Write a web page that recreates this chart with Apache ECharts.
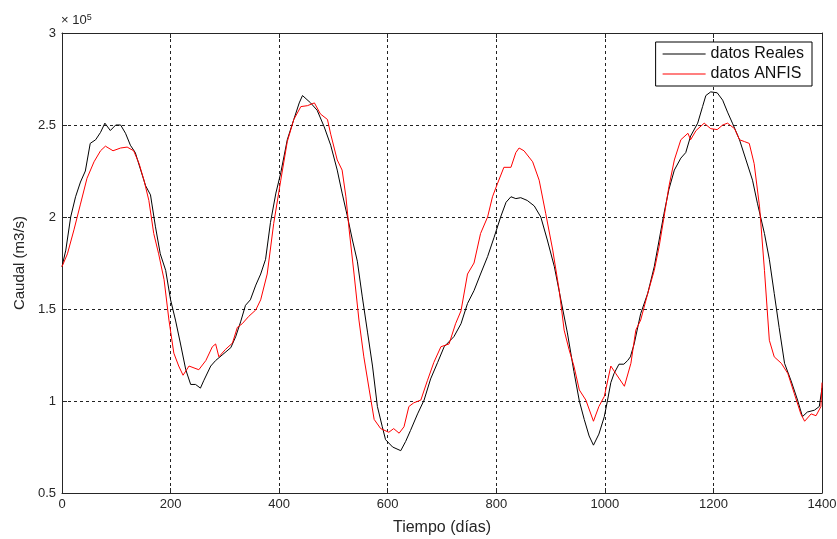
<!DOCTYPE html>
<html>
<head>
<meta charset="utf-8">
<script src="https://cdn.jsdelivr.net/npm/echarts@6/dist/echarts.min.js"></script>
<style>
    html, body { margin: 0; padding: 0; background: #fff; }
    #chart { width: 837px; height: 539px; }
</style>
</head>
<body>
<div id="chart"></div>
<script>
// datos (caudal en unidades de 10^5 m3/s)
var diasReales = [0, 7, 16, 25, 34, 43, 52, 62, 71, 79, 89, 99, 108, 117, 126, 135, 145, 154, 163, 172,
    181, 191, 200, 209, 218, 228, 237, 246, 255, 261, 274, 283, 295, 311, 320, 329, 338, 347, 357, 366,
    375, 384, 394, 403, 415, 427, 437, 443, 458, 470, 483, 495, 507, 516, 526, 535, 544, 553, 563, 572,
    581, 590, 596, 609, 624, 633, 642, 655, 667, 679, 692, 704, 722, 735, 747, 759, 771, 784, 796, 808,
    818, 827, 836, 845, 857, 870, 882, 894, 907, 919, 931, 943, 953, 962, 971, 979, 989, 999, 1005, 1011,
    1017, 1026, 1035, 1042, 1047, 1054, 1066, 1079, 1091, 1100, 1109, 1118, 1128, 1140, 1149, 1158, 1171, 1180, 1186, 1195,
    1207, 1217, 1226, 1235, 1248, 1260, 1272, 1281, 1294, 1303, 1312, 1321, 1331, 1343, 1355, 1364, 1373, 1386, 1395, 1400];
var caudalReales = [1.73, 1.82, 2.00, 2.11, 2.19, 2.25, 2.40, 2.42, 2.46, 2.51, 2.47, 2.50, 2.50, 2.455, 2.39, 2.35, 2.255, 2.17, 2.12, 1.95,
    1.80, 1.71, 1.55, 1.44, 1.315, 1.17, 1.09, 1.09, 1.07, 1.11, 1.19, 1.22, 1.25, 1.29, 1.35, 1.43, 1.52, 1.55, 1.63, 1.69,
    1.77, 1.97, 2.13, 2.24, 2.42, 2.53, 2.62, 2.66, 2.62, 2.58, 2.49, 2.39, 2.255, 2.13, 2.00, 1.875, 1.76, 1.57, 1.37, 1.19,
    0.97, 0.86, 0.79, 0.75, 0.73, 0.78, 0.84, 0.93, 1.005, 1.12, 1.21, 1.295, 1.35, 1.42, 1.53, 1.60, 1.69, 1.785, 1.89, 2.00,
    2.08, 2.11, 2.10, 2.105, 2.09, 2.06, 2.00, 1.875, 1.73, 1.55, 1.37, 1.16, 1.00, 0.90, 0.81, 0.76, 0.82, 0.915, 1.005, 1.10,
    1.15, 1.20, 1.20, 1.22, 1.24, 1.31, 1.475, 1.585, 1.73, 1.875, 2.02, 2.15, 2.255, 2.32, 2.35, 2.44, 2.51, 2.60, 2.66, 2.68,
    2.675, 2.635, 2.57, 2.51, 2.42, 2.31, 2.20, 2.075, 1.91, 1.77, 1.585, 1.40, 1.205, 1.11, 1.005, 0.915, 0.94, 0.95, 0.97, 1.07];

var diasAnfis = [0, 10, 22, 34, 46, 59, 71, 80, 94, 108, 120, 132, 142, 151, 160, 169, 178, 188, 197, 206,
    215, 223, 234, 252, 265, 277, 283, 289, 301, 314, 323, 332, 344, 357, 366, 378, 390, 403, 415, 427,
    440, 452, 465, 476, 489, 495, 507, 516, 523, 529, 538, 547, 556, 566, 575, 587, 602, 611, 621, 630,
    639, 648, 661, 673, 685, 698, 713, 725, 735, 747, 759, 771, 784, 793, 802, 814, 827, 836, 842, 851,
    867, 879, 891, 904, 916, 925, 934, 943, 953, 965, 979, 989, 999, 1011, 1020, 1036, 1048, 1057, 1066, 1079,
    1091, 1100, 1109, 1118, 1128, 1140, 1153, 1158, 1168, 1183, 1195, 1207, 1217, 1226, 1239, 1248, 1257, 1266, 1275, 1285,
    1294, 1303, 1312, 1325, 1337, 1349, 1361, 1368, 1380, 1389, 1398, 1400];
var caudalAnfis = [1.73, 1.80, 1.93, 2.07, 2.21, 2.30, 2.36, 2.385, 2.36, 2.375, 2.38, 2.36, 2.29, 2.20, 2.09, 1.91, 1.80, 1.66, 1.44, 1.26,
    1.19, 1.14, 1.19, 1.17, 1.22, 1.295, 1.31, 1.24, 1.28, 1.315, 1.40, 1.42, 1.46, 1.495, 1.55, 1.69, 1.965, 2.20, 2.41, 2.53,
    2.60, 2.605, 2.62, 2.56, 2.53, 2.45, 2.31, 2.255, 2.11, 1.93, 1.69, 1.44, 1.24, 1.06, 0.90, 0.85, 0.83, 0.85, 0.825, 0.86,
    0.97, 0.99, 1.005, 1.11, 1.21, 1.295, 1.31, 1.42, 1.49, 1.69, 1.75, 1.91, 2.00, 2.11, 2.18, 2.27, 2.27, 2.35, 2.375, 2.36,
    2.30, 2.20, 2.02, 1.82, 1.60, 1.385, 1.28, 1.19, 1.06, 1.005, 0.89, 0.97, 1.025, 1.19, 1.15, 1.08, 1.205, 1.385, 1.44, 1.585,
    1.71, 1.84, 2.00, 2.165, 2.31, 2.42, 2.455, 2.42, 2.47, 2.51, 2.48, 2.475, 2.50, 2.51, 2.48, 2.42, 2.41, 2.40, 2.29, 2.055,
    1.71, 1.33, 1.24, 1.205, 1.15, 1.04, 0.93, 0.89, 0.93, 0.92, 0.97, 1.10];

var xTicks = { min: 0, max: 1400, step: 200 };
var yTicks = { min: 0.5, max: 3, step: 0.5 };

function pares(xs, ys) {
    var out = [];
    for (var i = 0; i < xs.length; i++) {
        out.push([xs[i], ys[i]]);
    }
    return out;
}

var myChart = echarts.init(document.getElementById('chart'), null, { renderer: 'canvas' });

var fuente = 'Liberation Sans, Arial, sans-serif';
var ejeColor = '#262626';

// eje con cuadro estilo matlab
function ejeBase(extra) {
    var base = {
        type: 'value',
        axisLine: { show: true, onZero: false, lineStyle: { color: ejeColor, width: 1 } },
        axisTick: { show: true, inside: true, length: 5, lineStyle: { color: ejeColor } },
        splitLine: { show: false },
        axisLabel: { show: false }
    };
    for (var k in extra) {
        base[k] = extra[k];
    }
    return base;
}

var option = {
    animation: false,
    backgroundColor: '#fff',
    grid: {
        left: 62,
        top: 33,
        width: 760,
        height: 460,
        outerBoundsMode: 'none'
    },
    legend: {
        right: 25,
        top: 42,
        orient: 'vertical',
        backgroundColor: '#fff',
        borderColor: '#000',
        borderWidth: 1,
        borderRadius: 0,
        padding: [4, 8, 4, 7],
        itemGap: 4,
        icon: 'rect',
        itemWidth: 43,
        itemHeight: 1,
        textStyle: { fontFamily: fuente, fontSize: 16, color: '#111' },
        data: ['datos Reales', 'datos ANFIS']
    },
    xAxis: [
        ejeBase({
            min: xTicks.min,
            max: xTicks.max,
            interval: xTicks.step,
            position: 'bottom',
            name: 'Tiempo (días)',
            nameLocation: 'middle',
            nameGap: 27,
            nameTextStyle: { fontFamily: fuente, fontSize: 16, color: ejeColor },
            axisLabel: {
                show: true,
                margin: 5,
                fontFamily: fuente,
                fontSize: 13,
                color: ejeColor,
                formatter: function(v) { return String(v); }
            },
            splitLine: { show: true, lineStyle: { color: '#222', type: [3, 3], width: 1 } }
        }),
        ejeBase({ min: xTicks.min, max: xTicks.max, interval: xTicks.step, position: 'top' })
    ],
    yAxis: [
        ejeBase({
            min: yTicks.min,
            max: yTicks.max,
            interval: yTicks.step,
            position: 'left',
            name: 'Caudal (m3/s)',
            nameLocation: 'middle',
            nameGap: 31,
            nameTextStyle: { fontFamily: fuente, fontSize: 15, color: ejeColor },
            axisLabel: { show: true, margin: 6, fontFamily: fuente, fontSize: 13, color: ejeColor },
            splitLine: { show: true, lineStyle: { color: '#222', type: [3, 3], width: 1 } }
        }),
        ejeBase({ min: yTicks.min, max: yTicks.max, interval: yTicks.step, position: 'right' })
    ],
    graphic: [{
        type: 'text',
        left: 61,
        top: 13,
        style: {
            text: '× 10{sup|5}',
            fontFamily: fuente,
            fontSize: 13,
            fill: ejeColor,
            rich: {
                sup: { fontSize: 9, verticalAlign: 'top', padding: [0, 0, 6, 0], fill: ejeColor }
            }
        }
    }],
    series: [{
        name: 'datos Reales',
        type: 'line',
        symbol: 'none',
        lineStyle: { color: '#000', width: 1 },
        itemStyle: { color: '#000' },
        data: pares(diasReales, caudalReales)
    }, {
        name: 'datos ANFIS',
        type: 'line',
        symbol: 'none',
        lineStyle: { color: '#ff0000', width: 1 },
        itemStyle: { color: '#ff0000' },
        data: pares(diasAnfis, caudalAnfis)
    }]
};

myChart.setOption(option);
</script>
</body>
</html>
